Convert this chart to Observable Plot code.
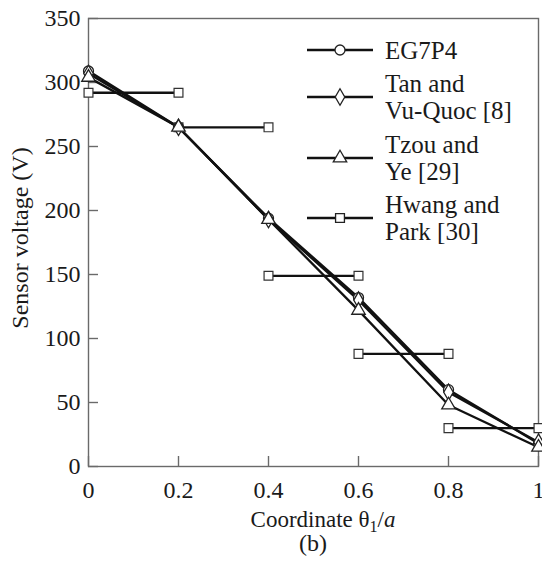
<!DOCTYPE html>
<html><head><meta charset="utf-8">
<script src="https://cdn.jsdelivr.net/npm/d3@7"></script>
<script src="https://cdn.jsdelivr.net/npm/@observablehq/plot@0.6"></script>
<style>body{margin:0;background:#fff}</style>
</head><body><div id="chart"></div>
<script>
const xCoords = [0, 0.2, 0.4, 0.6, 0.8, 1.0];
const eg7p4 = [309, 265, 194, 132, 60, 18];
const tanVuQuoc = [307, 265, 193, 130, 58, 19];
const tzouYe = [304, 265, 193, 122, 48, 15];
const hwangStart = [0, 0.2, 0.4, 0.6, 0.8];
const hwangEnd = [0.2, 0.4, 0.6, 0.8, 1.0];
const hwangPark = [292, 265, 149, 88, 30];
const xTicks = [0, 0.2, 0.4, 0.6, 0.8, 1];
const xTickLabels = ["0", "0.2", "0.4", "0.6", "0.8", "1"];
const yTicks = [0, 50, 100, 150, 200, 250, 300, 350];
const seriesNames = ["EG7P4", "Tan and\nVu-Quoc [8]", "Tzou and\nYe [29]", "Hwang and\nPark [30]"];
const seriesSymbols = ["circle", "diamond", "triangle", "square"];

const series = [eg7p4, tanVuQuoc, tzouYe].map((vals, i) =>
  vals.map((v, j) => ({x: xCoords[j], y: v, s: seriesNames[i], sym: seriesSymbols[i]})));
const hwang = hwangPark.map((v, i) => ({x1: hwangStart[i], x2: hwangEnd[i], y: v}));
const hwangPts = hwang.flatMap(d => [{x: d.x1, y: d.y}, {x: d.x2, y: d.y}]);

const FONT = "Liberation Serif, Times New Roman, serif";
const INK = "#1a1a1a";
const FRAME = "#6a6a6a";

const plot = Plot.plot({
  width: 542, height: 565,
  marginLeft: 88, marginRight: 4, marginTop: 18, marginBottom: 99,
  style: {fontFamily: FONT, fontSize: "24px", color: INK, background: "#fff", overflow: "visible"},
  x: {domain: [0, 1]},
  y: {domain: [0, 350]},
  marks: [
    Plot.frame({stroke: FRAME, strokeWidth: 1.4}),
    Plot.axisX(xTicks, {tickSize: -10, stroke: FRAME, strokeWidth: 1.4, fill: "none", label: null}),
    Plot.axisY(yTicks, {tickSize: -10, stroke: FRAME, strokeWidth: 1.4, fill: "none", label: null}),
    Plot.axisX(xTicks, {tickSize: 0, tickPadding: 14, tickFormat: (d, i) => xTickLabels[i], label: null, fill: INK}),
    Plot.axisY(yTicks, {tickSize: 0, tickPadding: 8, label: null, fill: INK}),
    Plot.link(hwang, {x1: "x1", x2: "x2", y1: "y", y2: "y", stroke: "#111", strokeWidth: 2.3}),
    ...series.map(s => Plot.line(s, {x: "x", y: "y", stroke: "#111", strokeWidth: 2.3})),
    Plot.dot(hwangPts, {x: "x", y: "y", symbol: "square", r: 5, fill: "#fff", stroke: "#333", strokeWidth: 1.2}),
    ...series.map((s, i) => Plot.dot(s, {x: "x", y: "y", symbol: seriesSymbols[i], r: 5, fill: "#fff", stroke: "#222", strokeWidth: 1.3}))
  ]
});
document.getElementById("chart").appendChild(plot);

const svg = d3.select(plot);
// axis titles
const xt = svg.append("text").attr("x", 323).attr("y", 527).attr("text-anchor", "middle")
  .attr("font-family", FONT).attr("font-size", 23).attr("fill", INK);
xt.append("tspan").text("Coordinate \u03b8");
xt.append("tspan").attr("font-size", 16).attr("dy", 5).text("1");
xt.append("tspan").attr("dy", -5).text("/");
xt.append("tspan").attr("font-style", "italic").text("a");
svg.append("text").attr("x", 313).attr("y", 551).attr("text-anchor", "middle")
  .attr("font-family", FONT).attr("font-size", 24).attr("fill", INK).text("(b)");
svg.append("text").attr("transform", "translate(28,238) rotate(-90)").attr("text-anchor", "middle")
  .attr("font-family", FONT).attr("font-size", 24).attr("fill", INK).text("Sensor voltage (V)");

// legend
const legendY = [50, 97, 158, 218];
const d3Sym = {circle: d3.symbolCircle, diamond: d3.symbolDiamond, triangle: d3.symbolTriangle, square: d3.symbolSquare};
const lg = svg.append("g");
seriesNames.forEach((name, i) => {
  const y = legendY[i];
  lg.append("line").attr("x1", 307).attr("x2", 373).attr("y1", y).attr("y2", y)
    .attr("stroke", "#111").attr("stroke-width", 2.3);
  lg.append("path").attr("transform", `translate(340,${y})`)
    .attr("d", d3.symbol(d3Sym[seriesSymbols[i]], Math.PI * 25)())
    .attr("fill", "#fff").attr("stroke", "#222").attr("stroke-width", 1.3);
  const lines = name.split("\n");
  const t = lg.append("text").attr("text-anchor", "start").attr("font-family", FONT)
    .attr("font-size", 25).attr("fill", INK);
  lines.forEach((ln, k) => {
    const by = lines.length === 1 ? y + 9 : y - 5 + k * 26.5;
    t.append("tspan").attr("x", 385).attr("y", by).text(ln);
  });
});
</script>
</body></html>
